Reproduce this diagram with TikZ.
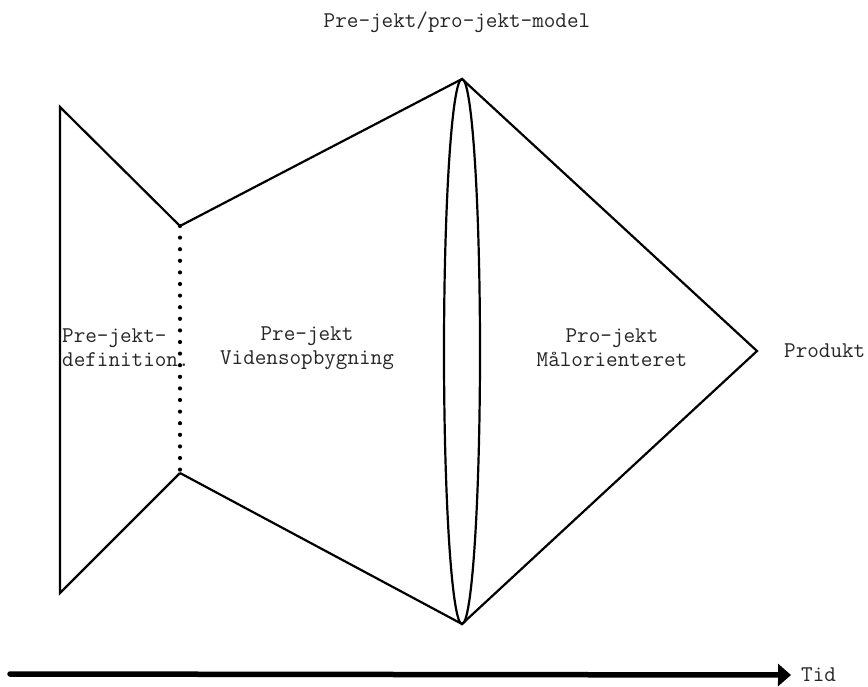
\documentclass[tikz,border=0pt]{standalone}
\usetikzlibrary{arrows.meta}
\begin{document}
\begin{tikzpicture}[x=1pt,y=-1pt,
  outline/.style={line width=2.2pt,line join=miter},
  lbl/.style={font=\ttfamily\fontsize{22.5}{24}\selectfont,inner sep=0pt,align=center,text=black!85},
  dots/.style={line width=4.2pt,line cap=round,dash pattern=on 0pt off 11.6pt}]
\useasboundingbox (0,0) rectangle (868,686);
% outline points
\coordinate (tl) at (60,107);
\coordinate (bl) at (60,593);
\coordinate (nt) at (180,226);
\coordinate (nb) at (180,473);
\coordinate (top) at (462,79);
\coordinate (bot) at (462,624);
\coordinate (tip) at (757,351);
% fish body
\draw[outline] (nt) -- (tl) -- (bl) -- (nb);
\draw[outline] (nt) -- (top) -- (tip) -- (bot) -- (nb);
\draw[dots] (nt) -- (nb);
\draw[line width=2.2pt] (462,351.5) ellipse [x radius=18, y radius=272.5];
% labels
\node[lbl] (title) at (457,22) {Pre-jekt/pro-jekt-model};
\node[lbl,anchor=west,align=left] (def) at (62,348) {Pre-jekt-\\definition.};
\node[lbl] (pre) at (307,348) {Pre-jekt\\Vidensopbygning};
\node[lbl] (pro) at (612,348) {Pro-jekt\\Målorienteret};
\node[lbl,anchor=west] (prod) at (784,351) {Produkt};
% time axis
\coordinate (t0) at (10,674);
\node[lbl,anchor=west] (tid) at (801,675) {Tid};
\draw[line width=5.5pt,line cap=round,-{Triangle[length=13pt,width=22pt]}] (t0) -- ([xshift=-10pt]tid.west);
\end{tikzpicture}
\end{document}
